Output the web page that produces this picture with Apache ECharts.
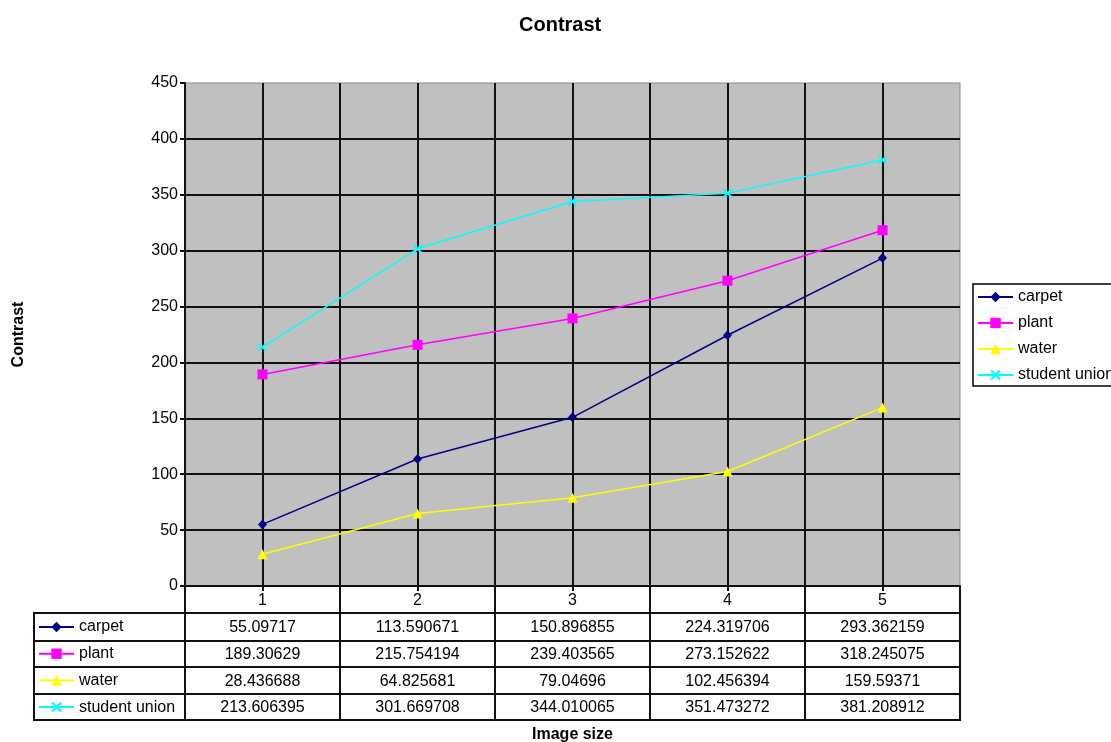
<!DOCTYPE html>
<html>
<head>
<meta charset="utf-8">
<script src="https://cdn.jsdelivr.net/npm/echarts@6/dist/echarts.min.js"></script>
<style>
  html, body { margin: 0; padding: 0; background: #fff; }
  #chart { width: 1111px; height: 742px; }
</style>
</head>
<body>
<div id="chart"></div>
<script>
// Image sizes along the x axis and the measured contrast for each scene
const imageSizes = [1, 2, 3, 4, 5];
const carpet = [55.09717, 113.590671, 150.896855, 224.319706, 293.362159];
const plant = [189.30629, 215.754194, 239.403565, 273.152622, 318.245075];
const water = [28.436688, 64.825681, 79.04696, 102.456394, 159.59371];
const studentUnion = [213.606395, 301.669708, 344.010065, 351.473272, 381.208912];
const seriesNames = ['carpet', 'plant', 'water', 'student union'];
const yTickValues = [0, 50, 100, 150, 200, 250, 300, 350, 400, 450];

const FONT = '"Liberation Sans", Arial, sans-serif';
const INK = '#000';
const RULE = '#111';

const seriesValues = [carpet, plant, water, studentUnion];
const seriesColors = ['#000080', '#ff00ff', '#ffff00', '#00ffff'];
const crossPath = 'path://M0,1.5L1.5,0L5,3.5L8.5,0L10,1.5L6.5,5L10,8.5L8.5,10L5,6.5L1.5,10L0,8.5L3.5,5Z';
const seriesSymbols = ['diamond', 'rect', 'triangle', crossPath];
const symbolSizes = [[9, 10], 10, 10, 9];

const chart = echarts.init(document.getElementById('chart'), null, { renderer: 'canvas' });

const gridBox = { left: 185, right: 151, top: 83, bottom: 156 };
const tableRows = [613, 641, 667, 694, 720]; // horizontal rules of the data table
const tableLeft = 34;

const legendCommon = {
  orient: 'vertical',
  itemWidth: 35,
  itemHeight: 13,
  textStyle: { fontFamily: FONT, fontSize: 16, color: INK, lineHeight: 16 },
  data: seriesNames
};

chart.setOption({
  animation: false,
  title: {
    text: 'Contrast',
    left: 519, top: 15, padding: 0,
    textStyle: { fontFamily: FONT, fontSize: 20, fontWeight: 'bold', color: INK }
  },
  legend: [
    Object.assign({}, legendCommon, {
      left: 973, top: 284,
      padding: [5, 60, 3, 4],
      itemGap: 10,
      borderColor: '#000', borderWidth: 1.5
    }),
    Object.assign({}, legendCommon, {
      left: 38, top: 619,
      padding: 0,
      itemGap: 10.7
    })
  ],
  grid: Object.assign({
    show: true,
    outerBoundsMode: 'none',
    containLabel: false,
    backgroundColor: '#c0c0c0',
    borderColor: '#8a8a8a',
    borderWidth: 1
  }, gridBox),
  xAxis: {
    type: 'value',
    min: 0.5, max: 5.5, interval: 0.5,
    name: 'Image size',
    nameLocation: 'middle',
    nameGap: 141,
    nameTextStyle: { fontFamily: FONT, fontSize: 16, fontWeight: 'bold', color: INK },
    axisLine: { show: true, lineStyle: { color: RULE, width: 2 } },
    axisTick: { show: true, length: 5, lineStyle: { color: RULE, width: 2 } },
    axisLabel: {
      margin: 7,
      fontFamily: FONT, fontSize: 16, color: INK,
      showMinLabel: false, showMaxLabel: false,
      formatter: v => (imageSizes.indexOf(v) >= 0 ? String(v) : '')
    },
    splitLine: { show: true, showMaxLine: false, lineStyle: { color: RULE, width: 2 } }
  },
  yAxis: {
    type: 'value',
    min: yTickValues[0],
    max: yTickValues[yTickValues.length - 1],
    interval: yTickValues[1] - yTickValues[0],
    name: 'Contrast',
    nameLocation: 'middle',
    nameGap: 158,
    nameTextStyle: { fontFamily: FONT, fontSize: 16, fontWeight: 'bold', color: INK },
    axisLine: { show: true, lineStyle: { color: RULE, width: 2 } },
    axisTick: { show: true, length: 5, lineStyle: { color: RULE, width: 2 } },
    axisLabel: { margin: 7, fontFamily: FONT, fontSize: 16, color: INK },
    splitLine: { show: true, showMaxLine: false, lineStyle: { color: RULE, width: 2 } }
  },
  series: seriesNames.map((name, s) => ({
    name: name,
    type: 'line',
    data: imageSizes.map((x, i) => [x, seriesValues[s][i]]),
    symbol: seriesSymbols[s],
    symbolSize: symbolSizes[s],
    showAllSymbol: true,
    lineStyle: { color: seriesColors[s], width: 1.5 },
    itemStyle: { color: seriesColors[s] },
    emphasis: { disabled: true },
    z: 3
  }))
});

// Data table under the plot: column rules follow the x axis, cells hold the series values
function buildTable() {
  const toX = v => chart.convertToPixel({ xAxisIndex: 0 }, v);
  const axisY = chart.getHeight() - gridBox.bottom;
  const right = toX(imageSizes[imageSizes.length - 1] + 0.5);
  const elements = [];
  const stroke = { stroke: RULE, lineWidth: 2 };

  // vertical rules at every column boundary
  for (let k = 0; k <= imageSizes.length; k++) {
    const x = Math.round(toX(imageSizes[0] - 0.5 + k));
    elements.push({ type: 'line', shape: { x1: x, y1: axisY, x2: x, y2: tableRows[tableRows.length - 1] + 1 }, style: stroke, z: 10 });
  }
  // left edge of the series-name column
  elements.push({ type: 'line', shape: { x1: tableLeft, y1: tableRows[0] - 1, x2: tableLeft, y2: tableRows[tableRows.length - 1] + 1 }, style: stroke, z: 10 });
  // horizontal rules
  tableRows.forEach(y => {
    elements.push({ type: 'line', shape: { x1: tableLeft - 1, y1: y, x2: right + 1, y2: y }, style: stroke, z: 10 });
  });

  // value cells
  seriesValues.forEach((vals, s) => {
    const cy = (tableRows[s] + tableRows[s + 1]) / 2 + 1;
    vals.forEach((v, i) => {
      elements.push({
        type: 'text',
        x: toX(imageSizes[i]), y: cy,
        style: { text: String(v), fill: INK, font: '16px ' + FONT, align: 'center', verticalAlign: 'middle' },
        z: 11
      });
    });
  });
  chart.setOption({ graphic: { elements: elements } });
}
buildTable();
</script>
</body>
</html>
